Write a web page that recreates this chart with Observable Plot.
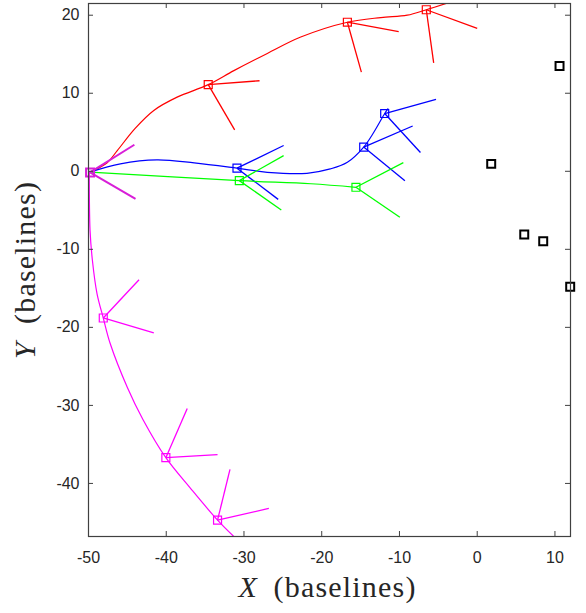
<!DOCTYPE html>
<html>
<head>
<meta charset="utf-8">
<script src="https://cdn.jsdelivr.net/npm/d3@7"></script>
<script src="https://cdn.jsdelivr.net/npm/@observablehq/plot@0.6"></script>
<style>
  body { margin: 0; background: #fff; }
  #chart g[aria-label="text"] text { letter-spacing: 1.2px; }
</style>
</head>
<body>
<div id="chart"></div>
<script>
// Axis ticks
const xTicks = [-50, -40, -30, -20, -10, 0, 10];
const yTicks = [-40, -30, -20, -10, 0, 10, 20];

// Trajectories (x, y in baselines)
const redTrack = [[-49.8, -0.1], [-47.6, 1.1], [-46.3, 2.65], [-44.0, 5.5], [-41.6, 7.8], [-38.6, 9.5],
  [-34.6, 11.1], [-31.3, 12.9], [-27.0, 15.1], [-22.7, 17.2], [-16.7, 19.1], [-12.4, 19.7],
  [-9.0, 20.0], [-6.55, 20.7], [-3.4, 21.7]];
const blueTrack = [[-49.8, -0.1], [-45.9, 0.95], [-41.2, 1.46], [-36.4, 1.08], [-30.9, 0.4],
  [-27.0, -0.13], [-21.9, -0.26], [-18.9, 0.3], [-16.7, 1.15], [-14.6, 3.1], [-13.3, 5.0],
  [-11.9, 7.4], [-11.5, 8.0]];
const greenTrack = [[-49.8, -0.1], [-30.6, -1.2], [-21.4, -1.6], [-15.6, -2.05]];
const magentaTrack = [[-49.9, -0.1], [-49.8, -7.6], [-49.5, -11.4], [-48.9, -15.7], [-48.1, -18.8],
  [-47.2, -22.1], [-45.0, -27.7], [-43.0, -31.8], [-40.05, -36.7], [-36.9, -40.6],
  [-33.4, -44.7], [-31.2, -46.9]];

// Sampled positions along each trajectory
const redMarks = [[-34.6, 11.1], [-16.7, 19.1], [-6.55, 20.7]];
const blueMarks = [[-30.9, 0.4], [-14.6, 3.1], [-11.9, 7.4]];
const greenMarks = [[-30.6, -1.2], [-15.6, -2.05]];
const magentaOrigin = [[-49.8, -0.15]];
const magentaMarks = [[-48.1, -18.8], [-40.05, -36.7], [-33.4, -44.7]];

// Arm end points, two per sampled position
const redArms = [[[-28.0, 11.6], [-31.2, 5.3]], [[-10.1, 17.9], [-14.9, 12.7]], [[0.0, 18.3], [-5.6, 13.9]]];
const blueArms = [[[-24.9, 3.3], [-25.6, -3.6]], [[-8.3, 5.8], [-9.3, -1.2]], [[-5.3, 9.2], [-7.3, 2.4]]];
const greenArms = [[[-24.9, 2.0], [-25.2, -4.95]], [[-9.5, 1.1], [-9.95, -5.9]]];
const magentaOriginArms = [[[-44.1, 3.4], [-43.95, -3.55]]];
const magentaArms = [[[-43.5, -13.9], [-41.6, -20.7]], [[-37.3, -30.4], [-33.4, -36.3]], [[-31.8, -38.2], [-26.8, -43.2]]];

// Fixed points
const fixedPts = [[10.59, 13.5], [1.8, 0.95], [6.05, -8.1], [8.49, -8.97], [11.96, -14.8]];

const W = 586, H = 613;
const mL = 88, mR = 16, mT = 3, mB = 77;
const innerW = W - mL - mR, innerH = H - mT - mB;
const tickLen = 5;
const axisColor = "#404040";
const textColor = "#262626";

const track = (pts, color) => Plot.line(pts, {
  x: d => d[0], y: d => d[1], stroke: color, strokeWidth: 1.2, curve: "catmull-rom", clip: true
});
const arms = (marks, ends, color, w) => {
  const segs = [];
  marks.forEach((m, i) => ends[i].forEach(e => segs.push({x1: m[0], y1: m[1], x2: e[0], y2: e[1]})));
  return Plot.link(segs, {x1: "x1", y1: "y1", x2: "x2", y2: "y2", stroke: color, strokeWidth: w});
};
const squares = (marks, color, w) => Plot.dot(marks, {
  x: d => d[0], y: d => d[1], symbol: "square", r: 4.5, stroke: color, strokeWidth: w, fill: "none"
});

const fmt = d => String(d);
const title = {textAnchor: "start", lineAnchor: "bottom", fontFamily: "Liberation Serif", fontSize: 30, fill: textColor};

const chart = Plot.plot({
  width: W, height: H,
  marginLeft: mL, marginRight: mR, marginTop: mT, marginBottom: mB,
  x: {domain: [-50, 12], axis: null},
  y: {domain: [-46.8, 21.5], axis: null},
  marks: [
    track(redTrack, "#ff0000"), arms(redMarks, redArms, "#ff0000", 1.3), squares(redMarks, "#ff0000", 1.2),
    track(blueTrack, "#0000ff"), arms(blueMarks, blueArms, "#0000ff", 1.3), squares(blueMarks, "#0000ff", 1.2),
    track(greenTrack, "#00ff00"), arms(greenMarks, greenArms, "#00ff00", 1.3), squares(greenMarks, "#00ff00", 1.2),
    track(magentaTrack, "#ff00ff"),
    arms(magentaOrigin, magentaOriginArms, "#d81ed8", 2),
    arms(magentaMarks, magentaArms, "#ff00ff", 1.3),
    squares(magentaOrigin, "#d81ed8", 2),
    squares(magentaMarks, "#ff00ff", 1.2),
    squares(fixedPts, "#000000", 2),

    // box with inward ticks on all four sides
    Plot.frame({stroke: axisColor, strokeWidth: 1.2}),
    Plot.tickX(xTicks, {x: d => d, stroke: axisColor, insetTop: innerH - tickLen}),
    Plot.tickX(xTicks, {x: d => d, stroke: axisColor, insetBottom: innerH - tickLen}),
    Plot.tickY(yTicks, {y: d => d, stroke: axisColor, insetRight: innerW - tickLen}),
    Plot.tickY(yTicks, {y: d => d, stroke: axisColor, insetLeft: innerW - tickLen}),
    Plot.axisX(xTicks, {anchor: "bottom", tickSize: 0, tickPadding: 15, tickFormat: fmt, color: textColor,
      label: null, fontFamily: "Liberation Sans", fontSize: 16}),
    Plot.axisY(yTicks, {anchor: "left", tickSize: 0, tickPadding: 9, tickFormat: fmt, color: textColor,
      label: null, fontFamily: "Liberation Sans", fontSize: 16}),

    // axis titles
    Plot.text(["X"], {...title, frameAnchor: "bottom", dx: -91, dy: 60, fontStyle: "italic"}),
    Plot.text(["(baselines)"], {...title, frameAnchor: "bottom", dx: -56, dy: 60}),
    Plot.text(["Y"], {...title, frameAnchor: "left", dx: -54, dy: 89, rotate: -90, fontStyle: "italic"}),
    Plot.text(["(baselines)"], {...title, frameAnchor: "left", dx: -54, dy: 54, rotate: -90})
  ]
});

document.getElementById("chart").appendChild(chart);
</script>
</body>
</html>
